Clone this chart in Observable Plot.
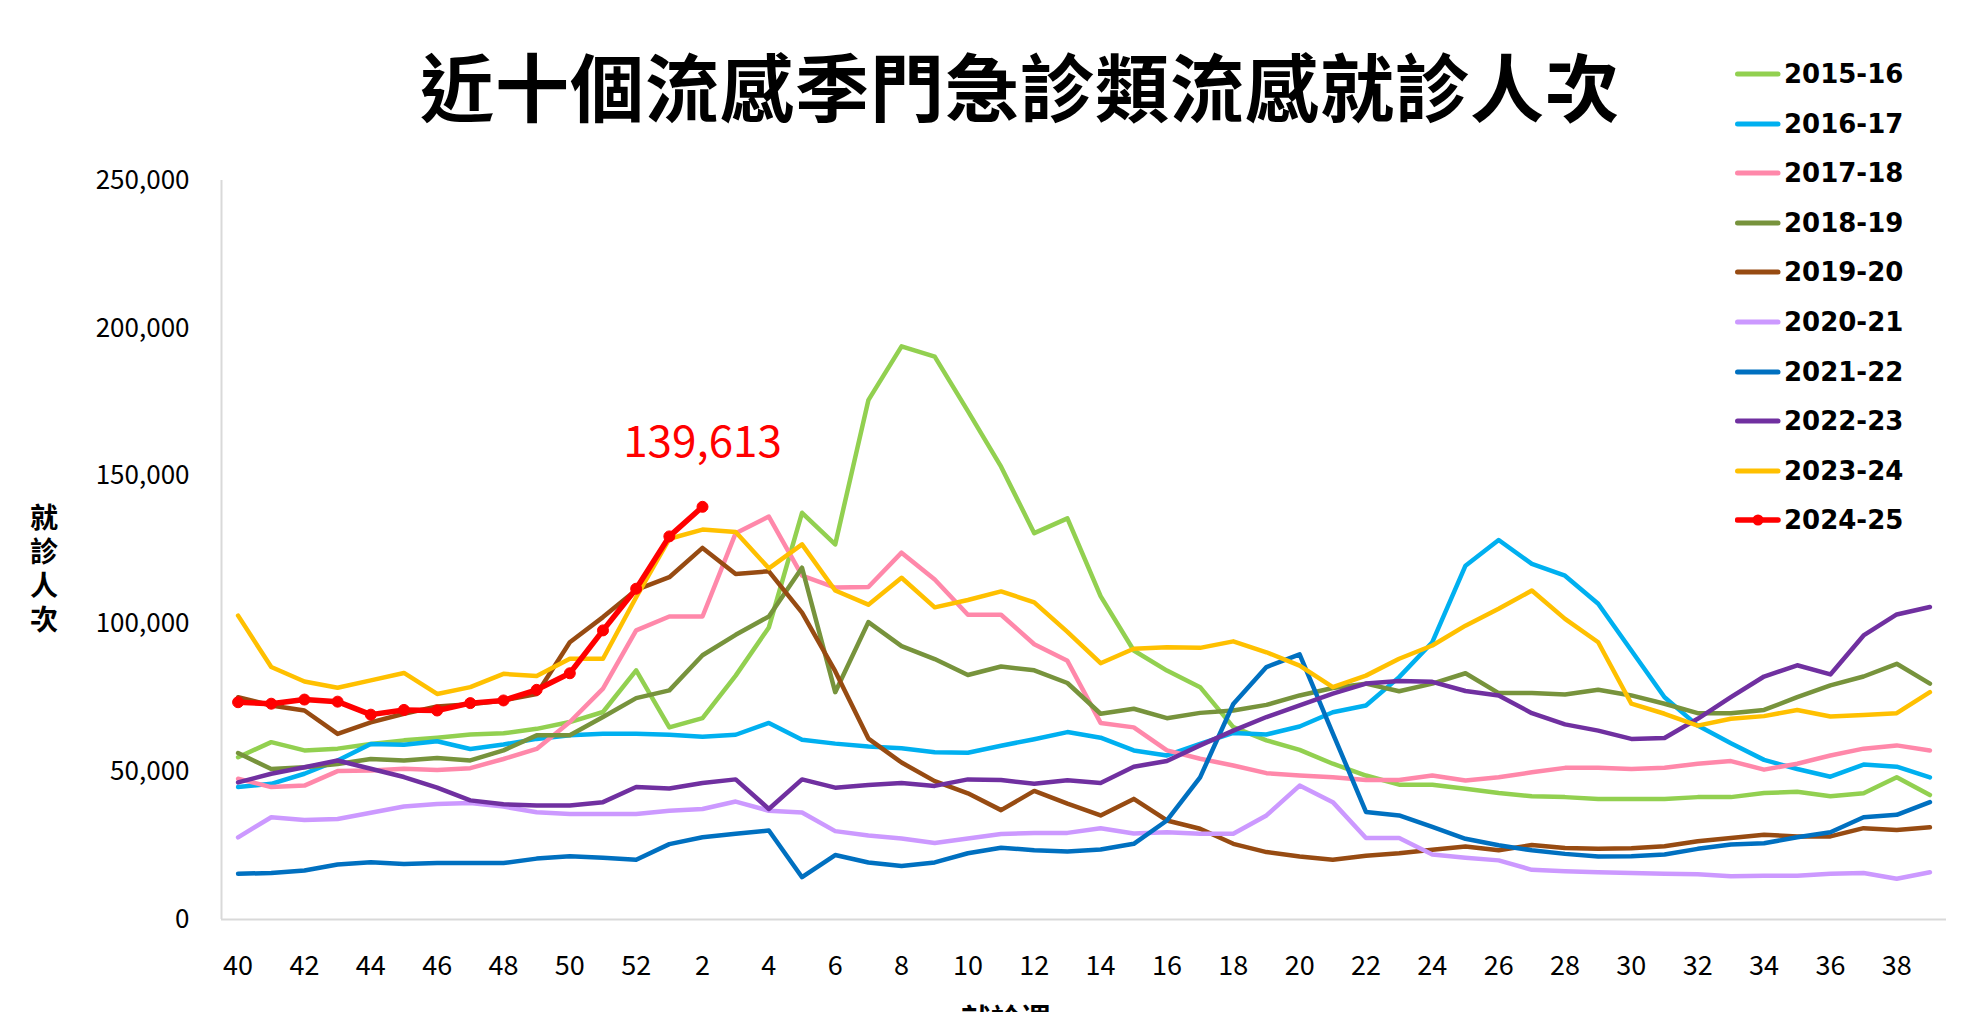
<!DOCTYPE html>
<html>
<head>
<meta charset="utf-8">
<script src="https://cdn.jsdelivr.net/npm/d3@7"></script>
<script src="https://cdn.jsdelivr.net/npm/@observablehq/plot@0.6"></script>
<style>
  html, body { margin: 0; padding: 0; background: #fff; }
  #wrap { position: relative; width: 1972px; height: 1012px; overflow: hidden; background: #fff; }
  #chart { position: absolute; left: 0; top: 0; }
  #title { position: absolute; left: 320px; width: 1400px; top: 46px; text-align: center;
           font-family: "Noto Sans CJK TC", sans-serif; font-weight: 700; font-size: 74px;
           line-height: 76px; letter-spacing: 1px; color: #000; white-space: nowrap; }
  #legend { position: absolute; left: 1735px; top: 0; }
  .lg { position: absolute; left: 0; height: 30px; width: 240px; }
  .lg svg { position: absolute; left: 0; top: 0; }
  .lg span { position: absolute; left: 49px; top: 0; line-height: 30px; font-family: "DejaVu Sans", sans-serif;
             font-weight: 700; font-size: 26px; color: #000; white-space: nowrap; }
  #ylab { position: absolute; left: 29px; top: 503px; width: 30px; font-family: "Noto Sans CJK TC", sans-serif;
          font-weight: 700; font-size: 28px; line-height: 30px; letter-spacing: 6px; color: #000;
          writing-mode: vertical-rl; text-orientation: upright; white-space: nowrap; }
  #xlab { position: absolute; left: 906px; width: 200px; top: 1000px; text-align: center;
          font-family: "Noto Sans CJK TC", sans-serif; font-weight: 700; font-size: 30px; line-height: 34px; color: #000; }
</style>
</head>
<body>
<div id="wrap">
  <div id="chart"></div>
  <div id="title"></div>
  <div id="legend"></div>
  <div id="ylab"></div>
  <div id="xlab"></div>
</div>
<script>
// ---- Data ----
const titleText = "近十個流感季門急診類流感就診人次";
const yLabel = "就診人次";
const xLabel = "就診週";

const weeks = [40,41,42,43,44,45,46,47,48,49,50,51,52,
  1,2,3,4,5,6,7,8,9,10,11,12,13,14,15,16,17,18,19,20,21,22,23,24,25,26,27,28,29,30,31,32,33,34,35,36,37,38,39];
const xTickWeeks = [40,42,44,46,48,50,52,2,4,6,8,10,12,14,16,18,20,22,24,26,28,30,32,34,36,38];
const yTicks = [0, 50000, 100000, 150000, 200000, 250000];

const seasons = ["2015-16","2016-17","2017-18","2018-19","2019-20","2020-21","2021-22","2022-23","2023-24","2024-25"];
const colors  = ["#92D050","#00B0F0","#FF88AA","#77933C","#974B12","#CC99FF","#0070C0","#7030A0","#FFC000","#FF0000"];

// values in persons, weeks 40..52 then 1..39
const s2015_16 = [54900,60000,57200,57800,59400,60600,61500,62600,63000,64500,66800,70200,84300,
  65000,68100,82500,98800,137600,126900,175700,193900,190400,172000,153200,130700,135700,109400,91000,84200,78600,65100,60600,57400,52700,48700,45600,45600,44200,42800,41700,41400,40800,40800,40800,41400,41400,42800,43200,41700,42700,48100,42100];
const s2016_17 = [44800,45900,49300,53800,59400,59100,60300,57700,59200,61100,62300,62800,62800,
  62500,61800,62500,66500,60800,59500,58500,57900,56600,56400,58800,61000,63400,61500,57200,55500,59400,63100,62600,65300,70100,72400,82000,93800,119700,128400,120300,116300,106800,91000,75200,65600,59600,54000,50900,48300,52400,51700,48100];
const s2017_18 = [47600,44800,45300,50200,50400,51000,50600,51200,54300,57700,66800,78100,97800,
  102500,102500,130700,136300,116300,112300,112500,124100,115000,103100,103100,93100,87500,66500,65000,57200,54400,52100,49500,48700,48100,47200,47200,48700,47000,48100,49800,51300,51300,50900,51300,52700,53600,50700,52700,55500,57800,58900,57200];
const s2018_19 = [56300,50900,51500,52600,54300,53800,54600,53800,57200,62300,62300,68500,74900,
  77500,89400,96300,102500,119000,76900,100600,92500,88100,82700,85600,84300,80000,69600,71300,68100,69900,70700,72600,75800,78300,79800,77200,79800,83300,76600,76600,76100,77700,75800,73000,69800,69800,70900,75200,79200,82200,86500,79800];
const s2019_20 = [75200,72400,70700,62800,66700,69600,72100,72800,74100,76300,93800,102300,111500,
  115800,125700,116900,117800,103800,84000,61200,53100,46800,42700,37000,43500,39200,35200,40800,33500,30700,25600,22800,21300,20200,21600,22400,23600,24700,23400,25200,24200,23900,24100,24800,26500,27600,28700,28100,28100,30900,30300,31200];
const s2020_21 = [27800,34600,33700,34000,36100,38200,39100,39400,38200,36300,35700,35700,35700,
  36800,37400,39900,36800,36200,29900,28400,27400,25900,27400,28900,29300,29300,30900,29100,29500,29000,29000,35200,45300,39700,27600,27600,22000,20900,20000,16800,16300,16000,15700,15500,15300,14600,14800,14800,15500,15700,13800,16000];
const s2021_22 = [15500,15700,16600,18600,19400,18800,19100,19100,19100,20600,21400,20900,20200,
  25500,27800,29000,30100,14300,21800,19300,18100,19300,22400,24300,23400,23000,23700,25600,33500,48100,72900,85400,89700,63000,36400,35200,31300,27300,25100,23400,22200,21300,21400,22000,23900,25400,25800,27800,29500,34600,35400,39700];
const s2022_23 = [46400,49300,51500,53800,51000,48200,44600,40300,39000,38600,38600,39700,44800,
  44300,46200,47400,37400,47400,44600,45500,46200,45200,47400,47200,45900,47100,46200,51700,53600,58900,63900,68500,72400,76400,79800,80700,80400,77300,75800,69800,66000,63900,61100,61400,67900,75200,82200,86000,82900,96100,103200,105700];
const s2023_24 = [102800,85400,80500,78400,80900,83400,76300,78600,83100,82400,88200,88200,109000,
  128800,131900,131100,118800,126900,111300,106500,115600,105600,108100,111000,107300,97300,86700,91600,92100,91900,94100,90400,85900,78600,82500,88200,92700,99400,105100,111300,101700,93800,73000,69600,65600,67900,68800,70900,68700,69200,69800,76900];
const s2024_25 = [73500,73000,74400,73700,69300,70900,70700,73200,74100,77700,83300,97800,111900,129600,139613];

const seriesValues = [s2015_16,s2016_17,s2017_18,s2018_19,s2019_20,s2020_21,s2021_22,s2022_23,s2023_24,s2024_25];

// ---- Build tables ----
const rows = [];
seriesValues.forEach((vals, si) => {
  vals.forEach((v, i) => rows.push({season: seasons[si], idx: i, week: weeks[i], value: v}));
});
const pastRows = rows.filter(d => d.season !== "2024-25");
const curRows = rows.filter(d => d.season === "2024-25");
const lastRow = curRows[curRows.length - 1];
const xTickIdx = xTickWeeks.map(w => weeks.indexOf(w));
const fmt = d3.format(",");

const chart = Plot.plot({
  width: 1972,
  height: 1012,
  marginLeft: 221,
  marginRight: 26,
  marginTop: 180,
  marginBottom: 93,
  style: {background: "transparent", fontFamily: "'Noto Sans CJK TC', sans-serif", color: "#000"},
  x: {type: "linear", domain: [-0.5, weeks.length - 0.5], axis: null},
  y: {domain: [0, 250000], axis: null},
  color: {domain: seasons, range: colors},
  marks: [
    Plot.ruleY([0], {stroke: "#d9d9d9", strokeWidth: 2}),
    Plot.ruleX([-0.5], {stroke: "#d9d9d9", strokeWidth: 2}),
    Plot.axisY({ticks: yTicks, tickSize: 0, tickPadding: 32, tickFormat: fmt, fontSize: 26, label: null}),
    Plot.axisX({ticks: xTickIdx, tickSize: 0, tickPadding: 36, tickFormat: i => weeks[i], fontSize: 27, label: null}),
    Plot.lineY(pastRows, {x: "idx", y: "value", z: "season", stroke: "season", strokeWidth: 4.5, strokeLinejoin: "round", strokeLinecap: "round"}),
    Plot.lineY(curRows, {x: "idx", y: "value", stroke: "season", strokeWidth: 5.5, strokeLinejoin: "round"}),
    Plot.dot(curRows, {x: "idx", y: "value", r: 5.5, fill: "season", stroke: "season", strokeWidth: 1}),
    Plot.text([lastRow], {x: "idx", y: "value", text: d => fmt(d.value), fill: "#FF0000", fontSize: 44, lineAnchor: "bottom", dy: -50})
  ]
});
document.getElementById("chart").appendChild(chart);

// ---- Title / labels ----
document.getElementById("title").textContent = titleText;
document.getElementById("ylab").textContent = yLabel;
document.getElementById("xlab").textContent = xLabel;

// ---- Legend ----
const rowCenter0 = 74, rowStep = 49.6;
const legend = document.getElementById("legend");
seasons.forEach((s, i) => {
  const div = document.createElement("div");
  div.className = "lg";
  div.style.top = (rowCenter0 + i * rowStep - 15) + "px";
  const isCur = s === "2024-25";
  div.innerHTML = `<svg width="48" height="30"><line x1="2.5" y1="15" x2="43" y2="15" stroke="${colors[i]}" stroke-width="${isCur ? 5.5 : 5}" stroke-linecap="round"/>${isCur ? `<circle cx="23" cy="15" r="5.5" fill="${colors[i]}"/>` : ""}</svg><span>${s}</span>`;
  legend.appendChild(div);
});
</script>
</body>
</html>
